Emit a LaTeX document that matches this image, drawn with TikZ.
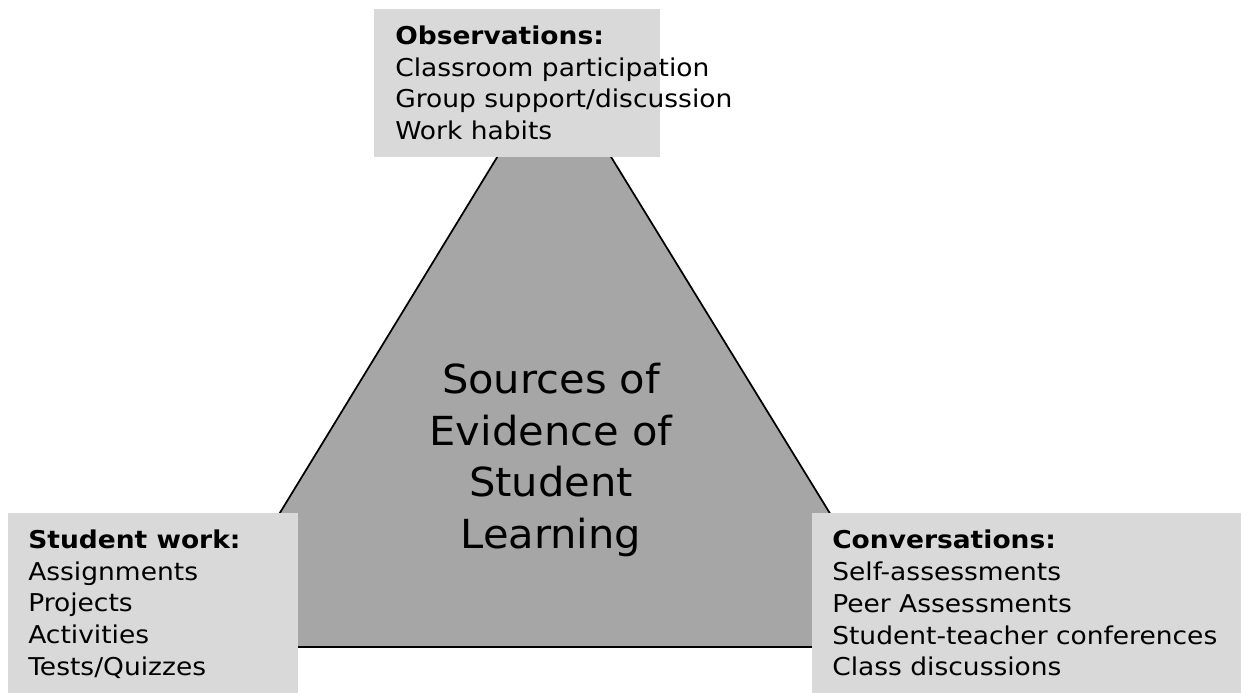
\documentclass[tikz,border=0pt]{standalone}
\usepackage{fontspec}
\setmainfont{DejaVu Sans}
\newfontfamily\verdanalike[FakeStretch=1.08]{DejaVu Sans}
\newfontfamily\hubfont[FakeStretch=1.04]{DejaVu Sans}
\usetikzlibrary{positioning, calc}

\definecolor{trifill}{HTML}{A6A6A6}
\definecolor{panelfill}{HTML}{D9D9D9}

\begin{document}
\begin{tikzpicture}[
  x=0.75pt, y=-0.75pt,
  panel/.style = {fill=panelfill, draw=none, rectangle, inner sep=0pt, anchor=north west},
  paneltxt/.style = {align=left, inner sep=0pt, anchor=north west,
                     font=\verdanalike\fontsize{18.4}{23.8}\selectfont},
  hubtxt/.style = {align=center, inner sep=0pt,
                   font=\hubfont\fontsize{30}{38.6}\selectfont},
]
  \useasboundingbox (0,0) rectangle (1241,692);

  % triangle corners
  \coordinate (tapex)  at (554,64);
  \coordinate (tleft)  at (198,647);
  \coordinate (tright) at (912,647);
  \filldraw[fill=trifill, draw=black, line width=1.3pt, line join=miter]
    (tapex) -- (tleft) -- (tright) -- cycle;

  \node[hubtxt] (hub) at (551,460)
    {Sources of\\Evidence of\\Student\\Learning};

  % the three panels sit on top of the corners
  \node[panel, minimum width=214.5pt, minimum height=110.5pt] (pobs)  at (374,9)   {};
  \node[panel, minimum width=218pt,   minimum height=140pt]   (pwork) at (7.5,513) {};
  \node[panel, minimum width=330pt,   minimum height=140pt]   (pconv) at (812,513) {};

  \node[paneltxt] (tobs) at ($(pobs.north west)+(21,16.5)$)
    {\textbf{Observations:}\\Classroom participation\\Group support/discussion\\Work habits};
  \node[paneltxt] (twork) at ($(pwork.north west)+(20.5,16.5)$)
    {\textbf{Student work:}\\Assignments\\Projects\\Activities\\Tests/Quizzes};
  \node[paneltxt] (tconv) at ($(pconv.north west)+(20,17)$)
    {\textbf{Conversations:}\\Self-assessments\\Peer Assessments\\Student-teacher conferences\\Class discussions};
\end{tikzpicture}
\end{document}
